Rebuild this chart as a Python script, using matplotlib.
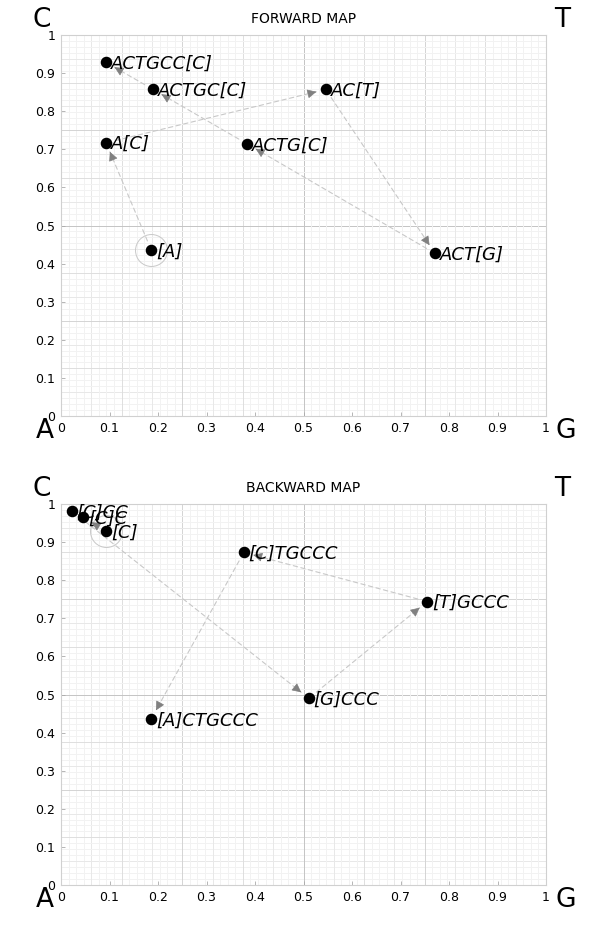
import numpy as np
import matplotlib
matplotlib.use("Agg")
import matplotlib.pyplot as plt

# forward map: ACTGCCC read left to right
fwd_labels = ['[A]', 'A[C]', 'AC[T]', 'ACT[G]', 'ACTG[C]', 'ACTGC[C]', 'ACTGCC[C]']
fwd_x = [0.186, 0.093, 0.546, 0.771, 0.384, 0.190, 0.093]
fwd_y = [0.436, 0.717, 0.857, 0.427, 0.714, 0.857, 0.928]

# backward map: read right to left
bwd_labels = ['[C]', '[C]C', '[C]CC', '[G]CCC', '[T]GCCC', '[C]TGCCC', '[A]CTGCCC']
bwd_x = [0.093, 0.046, 0.022, 0.511, 0.755, 0.377, 0.186]
bwd_y = [0.929, 0.965, 0.982, 0.490, 0.744, 0.873, 0.436]

tick_vals = [0, 0.1, 0.2, 0.3, 0.4, 0.5, 0.6, 0.7, 0.8, 0.9, 1]
tick_text = ['0', '0.1', '0.2', '0.3', '0.4', '0.5', '0.6', '0.7', '0.8', '0.9', '1']

DPI = 100
W, H = 600, 941
LINE = '#c8c8c8'
HEAD = '#808080'


def draw_grid(ax):
    # graph paper: 1/64 fine lines, heavier at 1/16, 1/8, 1/4, 1/2
    for k in range(1, 64):
        if k % 32 == 0:
            c = '#c4c4c4'
        elif k % 16 == 0:
            c = '#d4d4d4'
        elif k % 8 == 0:
            c = '#dedede'
        elif k % 4 == 0:
            c = '#e8e8e8'
        else:
            c = '#f2f2f2'
        ax.axvline(k / 64, color=c, lw=0.7, zorder=0)
        ax.axhline(k / 64, color=c, lw=0.7, zorder=0)


def draw_steps(ax, xs, ys):
    for i in range(len(xs) - 1):
        p0 = (xs[i], ys[i])
        p1 = (xs[i + 1], ys[i + 1])
        d0 = ax.transData.transform(p0)
        d1 = ax.transData.transform(p1)
        dist = np.hypot(*(d1 - d0)) * 72 / DPI
        shrink = min(7, dist * 0.36)
        ax.annotate('', xy=p1, xytext=p0, zorder=2,
                    arrowprops=dict(arrowstyle='-', color=LINE, lw=0.8,
                                    linestyle=(0, (4, 3)),
                                    shrinkA=shrink, shrinkB=shrink))
        # arrow head only, darker grey
        if dist - 2 * shrink > 3:
            ax.annotate('', xy=p1, xytext=p0, zorder=3,
                        arrowprops=dict(arrowstyle='-|>', color=HEAD, lw=0.5,
                                        mutation_scale=14,
                                        shrinkA=dist - shrink - 5.5,
                                        shrinkB=shrink))


def draw_map(ax, title, xs, ys, labels):
    ax.set_xlim(0, 1)
    ax.set_ylim(0, 1)
    draw_grid(ax)
    for s in ax.spines.values():
        s.set_color('#d0d0d0')
        s.set_linewidth(0.8)
    ax.set_xticks(tick_vals)
    ax.set_xticklabels(tick_text)
    ax.set_yticks(tick_vals)
    ax.set_yticklabels(tick_text)
    ax.tick_params(direction='in', length=3, width=0.6, color='#aaaaaa',
                   labelsize=9, pad=4)
    ax.set_title(title, fontsize=10, pad=9)

    draw_steps(ax, xs, ys)
    # start point is circled
    ax.plot(xs[0], ys[0], 'o', ms=23, mfc='none', mec='#c8c8c8', mew=0.7, zorder=2)
    ax.plot(xs, ys, 'o', color='black', ms=7.3, zorder=4)
    for x, y, lab in zip(xs, ys, labels):
        ax.annotate(lab, (x, y), xytext=(3.5, -1), textcoords='offset points',
                    ha='left', va='center', fontsize=13, fontstyle='italic',
                    zorder=5)


fig = plt.figure(figsize=(W / DPI, H / DPI), dpi=DPI)
ax1 = fig.add_axes([61 / W, 1 - 416 / H, 485 / W, 381 / H])
ax2 = fig.add_axes([61 / W, 1 - 885 / H, 485 / W, 381 / H])

draw_map(ax1, 'FORWARD MAP', fwd_x, fwd_y, fwd_labels)
draw_map(ax2, 'BACKWARD MAP', bwd_x, bwd_y, bwd_labels)

# corner nucleotides
for top in (0, 469):
    for lab, px, py in [('C', 42, 20), ('T', 562, 20), ('A', 45, 431), ('G', 566, 431)]:
        fig.text(px / W, 1 - (py + top) / H, lab, fontsize=19, ha='center', va='center')

fig.savefig('out.png', dpi=DPI)
